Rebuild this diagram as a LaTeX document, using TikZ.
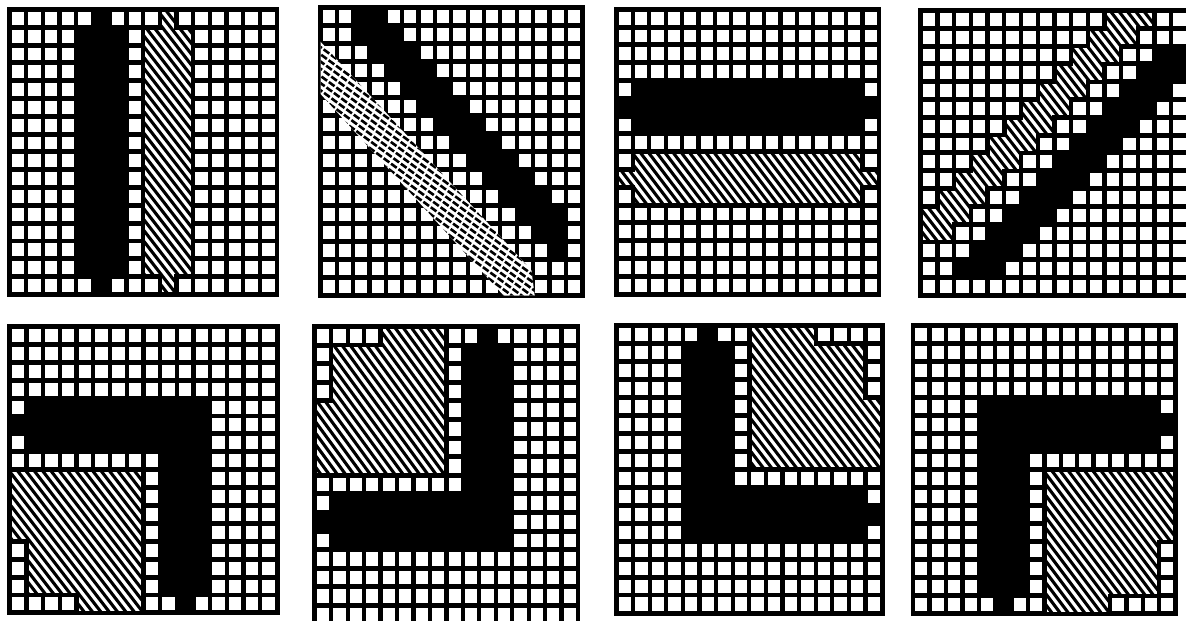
\documentclass[tikz,border=0pt]{standalone}
\usepackage{tikz}
\tikzset{
  hatchline/.style={line width=3.1pt},
  dashline/.style={line width=2.6pt,dash pattern=on 7pt off 2.2pt},
  edgeline/.style={line width=4.4pt,line join=miter}
}
\newcommand{\gridpanel}[5]{%
  \begin{scope}[shift={(#1,#2)},x=#3pt,y=-#4pt]
    \fill[black] (-0.15,-0.14) rectangle (16.15,16.14);
    \foreach \c in {0,...,15}
      \foreach \r in {0,...,15}
        \fill[white] (\c+0.13,\r+0.135) rectangle (\c+0.87,\r+0.865);
    #5
  \end{scope}}
\newcommand{\hatcharea}[1]{%
  \fill[white] #1;
  \begin{scope}
    \clip #1;
    \foreach \t in {-15,-14.5,...,16.5}
      \draw[hatchline] (\t,-1) -- ++(14,17);
  \end{scope}
  \draw[edgeline] #1;}

\begin{document}
\begin{tikzpicture}[x=1pt,y=-1pt]
  \useasboundingbox (0,0) rectangle (1186,621);
  \fill[white] (0,0) rectangle (1186,621);

  % top row
  \gridpanel{9.5}{9.5}{16.7}{17.8}{%
    \fill (4,1) rectangle (7,15) (5,0) rectangle (6,16);
    \hatcharea{(9,0) -- (10,0) -- (10,1) -- (11,1) -- (11,15) -- (10,15) -- (10,16)
      -- (9,16) -- (9,15) -- (8,15) -- (8,1) -- (9,1) -- cycle}
  }
  \gridpanel{320.5}{7.5}{16.35}{18.0}{%
    \foreach \r in {0,...,13}
      \fill ({max(2,\r+1)},\r) rectangle ({min(15,\r+4)},\r+1);
    \fill[white] (0,1.9) -- (12.9,14.6) -- (13.1,16) -- (11.2,16) -- (0,4.8) -- cycle;
    \begin{scope}
      \clip (0,1.9) -- (12.9,14.6) -- (13.1,16) -- (11.2,16) -- (0,4.8) -- cycle;
      \foreach \t in {-27,-26.4,...,16}
        \draw[dashline] (\t,-1) -- ++(27,18);
    \end{scope}
  }
  \gridpanel{616.5}{9.3}{16.4}{17.8}{%
    \fill (1,4) rectangle (15,7) (0,5) rectangle (16,6);
    \hatcharea{(1,8) -- (15,8) -- (15,9) -- (16,9) -- (16,10) -- (15,10) -- (15,11)
      -- (1,11) -- (1,10) -- (0,10) -- (0,9) -- (1,9) -- cycle}
  }
  \gridpanel{920.8}{10.5}{16.7}{17.8}{%
    \foreach \r in {2,...,14}
      \fill (16-\r,\r) rectangle ({min(16,19-\r)},\r+1);
    \hatcharea{(11,0) -- (14,0) \foreach \r in {1,...,12} {-- (15-\r,\r) -- (14-\r,\r)}
      -- (2,13) -- (0,13) -- (0,11) \foreach \k in {1,...,11} {-- (\k,12-\k) -- (\k,11-\k)} -- cycle}
  }

  % bottom row
  \gridpanel{9.8}{326.5}{16.7}{17.9}{%
    \fill (1,4) rectangle (12,7) (0,5) rectangle (1,6)
      (9,4) rectangle (12,15) (10,15) rectangle (11,16);
    \hatcharea{(0,8) -- (8,8) -- (8,16) -- (4,16) -- (4,15) -- (1,15) -- (1,12) -- (0,12) -- cycle}
  }
  \gridpanel{314.8}{326.5}{16.45}{18.6}{%
    \fill (9,1) rectangle (12,12) (10,0) rectangle (11,1)
      (1,9) rectangle (12,12) (0,10) rectangle (1,11);
    \hatcharea{(4,0) -- (8,0) -- (8,8) -- (0,8) -- (0,4) -- (1,4) -- (1,1) -- (4,1) -- cycle}
  }
  \gridpanel{616.5}{325.8}{16.6}{17.95}{%
    \fill (4,1) rectangle (7,12) (5,0) rectangle (6,1)
      (4,9) rectangle (15,12) (15,10) rectangle (16,11);
    \hatcharea{(8,0) -- (12,0) -- (12,1) -- (15,1) -- (15,4) -- (16,4) -- (16,8) -- (8,8) -- cycle}
  }
  \gridpanel{913.2}{325.8}{16.4}{18.0}{%
    \fill (4,4) rectangle (15,7) (15,5) rectangle (16,6)
      (4,4) rectangle (7,15) (5,15) rectangle (6,16);
    \hatcharea{(8,8) -- (16,8) -- (16,12) -- (15,12) -- (15,15) -- (12,15) -- (12,16) -- (8,16) -- cycle}
  }
\end{tikzpicture}
\end{document}
